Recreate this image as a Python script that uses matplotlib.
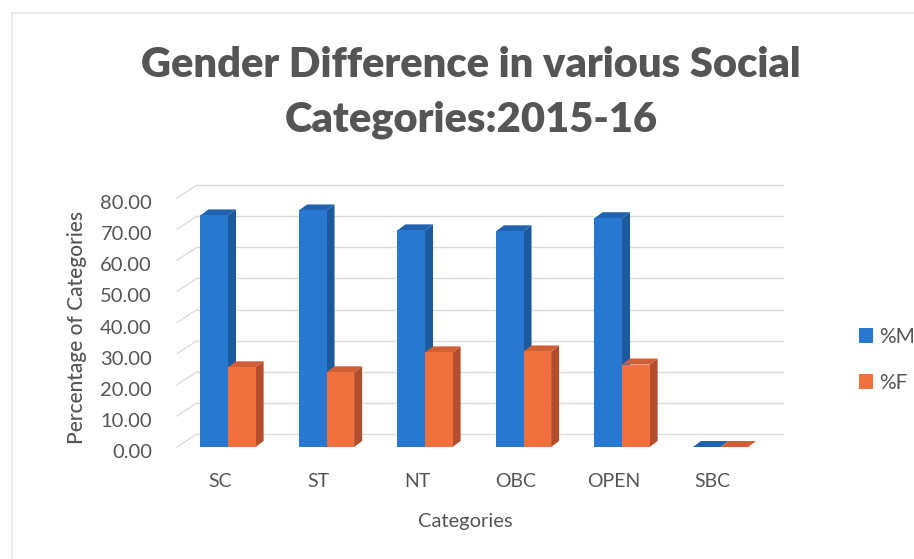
import matplotlib
matplotlib.use("Agg")
import matplotlib.pyplot as plt
from matplotlib.patches import Polygon
from matplotlib.lines import Line2D
from matplotlib.transforms import ScaledTranslation
import numpy as np

categories = ["SC", "ST", "NT", "OBC", "OPEN", "SBC"]
pct_m = [74.4, 76.0, 69.6, 69.3, 73.5, 0.0]
pct_f = [25.6, 24.0, 30.4, 30.7, 26.5, 0.0]
series_names = ["%M", "%F"]
yticks = [0, 10, 20, 30, 40, 50, 60, 70, 80]

W, H = 914, 559
DPI = 100
FONT = "Lato"
TXT = "#555555"
C_M = ("#2878D2", "#1B5A9C", "#1F63B0")   # front, side, top
C_F = ("#F0703E", "#B24E2C", "#D25E35")

fig = plt.figure(figsize=(W / DPI, H / DPI), dpi=DPI)
fig.patch.set_facecolor("white")

def px(x0, y0, x1, y1):
    return [x0 / W, 1 - y1 / H, (x1 - x0) / W, (y1 - y0) / H]

ax = fig.add_axes(px(177, 198, 763, 447))
ax.set_xlim(-0.518, 5.431)
ax.set_ylim(0, 80)
ax.set_facecolor("none")
for s in ax.spines.values():
    s.set_visible(False)

bb = ax.get_position()
px_per_x = bb.width * W / (ax.get_xlim()[1] - ax.get_xlim()[0])
px_per_y = bb.height * H / (ax.get_ylim()[1] - ax.get_ylim()[0])

# back wall / left wall grid
wall_dx, wall_dy = 20 / px_per_x, 13 / px_per_y
grid_c = "#DCDCDC"
x_lo, x_hi = ax.get_xlim()
for t in yticks:
    ax.add_line(Line2D([x_lo + wall_dx, x_hi + wall_dx], [t + wall_dy, t + wall_dy],
                       color=grid_c, lw=1.0, clip_on=False, zorder=0))
    ax.add_line(Line2D([x_lo, x_lo + wall_dx], [t, t + wall_dy],
                       color=grid_c, lw=1.0, clip_on=False, zorder=0))

# 3D-looking bars
bw = 0.28
bar_dx, bar_dy = 8 / px_per_x, 6 / px_per_y
x = np.arange(len(categories))

def draw_3d(xs, vals, cols, z, label):
    bars = ax.bar(xs, vals, width=bw, align="edge", color=cols[0], zorder=z + 0.2,
                  label=label, linewidth=0)
    for rect in bars:
        x0 = rect.get_x(); x1 = x0 + rect.get_width(); h = rect.get_height()
        side = [(x1, 0), (x1 + bar_dx, bar_dy), (x1 + bar_dx, h + bar_dy), (x1, h)]
        top = [(x0, h), (x1, h), (x1 + bar_dx, h + bar_dy), (x0 + bar_dx, h + bar_dy)]
        ax.add_patch(Polygon(side, closed=True, facecolor=cols[1], lw=0, zorder=z, clip_on=False))
        ax.add_patch(Polygon(top, closed=True, facecolor=cols[2], lw=0, zorder=z + 0.1, clip_on=False))
    return bars

bm = draw_3d(x - bw, pct_m, C_M, 2, series_names[0])
bf = draw_3d(x, pct_f, C_F, 3, series_names[1])

# ticks
ax.set_yticks(yticks)
ax.set_yticklabels([f"{v:.2f}" for v in yticks], fontfamily=FONT, fontsize=14.5, color=TXT)
ax.set_xticks(x)
ax.set_xticklabels(categories, fontfamily=FONT, fontsize=14, color=TXT)
ax.tick_params(axis="both", length=0)
ax.tick_params(axis="y", pad=18)
ax.tick_params(axis="x", pad=19)
for lab in ax.get_yticklabels():
    lab.set_transform(lab.get_transform() + ScaledTranslation(0, -0.04, fig.dpi_scale_trans))
for lab in ax.get_xticklabels():
    lab.set_transform(lab.get_transform() + ScaledTranslation(-0.08, 0, fig.dpi_scale_trans))

# axis titles
fig.text(77 / W, 1 - 327 / H, "Percentage of Categories", rotation=90, ha="center", va="center",
         fontfamily=FONT, fontsize=15, fontweight="medium", color=TXT)
fig.text(465 / W, 1 - 521 / H, "Categories", ha="center", va="center",
         fontfamily=FONT, fontsize=14.5, color=TXT)

# title
fig.text(471 / W, 1 - 65 / H, "Gender Difference in various Social", ha="center", va="center",
         fontfamily=FONT, fontweight="heavy", fontsize=30, color=TXT)
fig.text(471 / W, 1 - 120 / H, "Categories:2015-16", ha="center", va="center",
         fontfamily=FONT, fontweight="heavy", fontsize=30, color=TXT)

# legend
leg = fig.legend(handles=[bm, bf], labels=series_names, loc="center left",
                 bbox_to_anchor=(840 / W, 1 - 360 / H), frameon=False,
                 handlelength=0.7, handleheight=0.7, handletextpad=0.3,
                 labelspacing=1.25, prop={"family": FONT, "size": 15})
for t in leg.get_texts():
    t.set_color(TXT)

# faint chart border
fig.add_artist(Line2D([12 / W, 12 / W], [0, 1 - 13 / H], color="#E8E8E8", lw=1.2,
                      transform=fig.transFigure))
fig.add_artist(Line2D([12 / W, 1], [1 - 13 / H, 1 - 13 / H], color="#E8E8E8", lw=1.2,
                      transform=fig.transFigure))

fig.savefig("out.png", dpi=DPI)
